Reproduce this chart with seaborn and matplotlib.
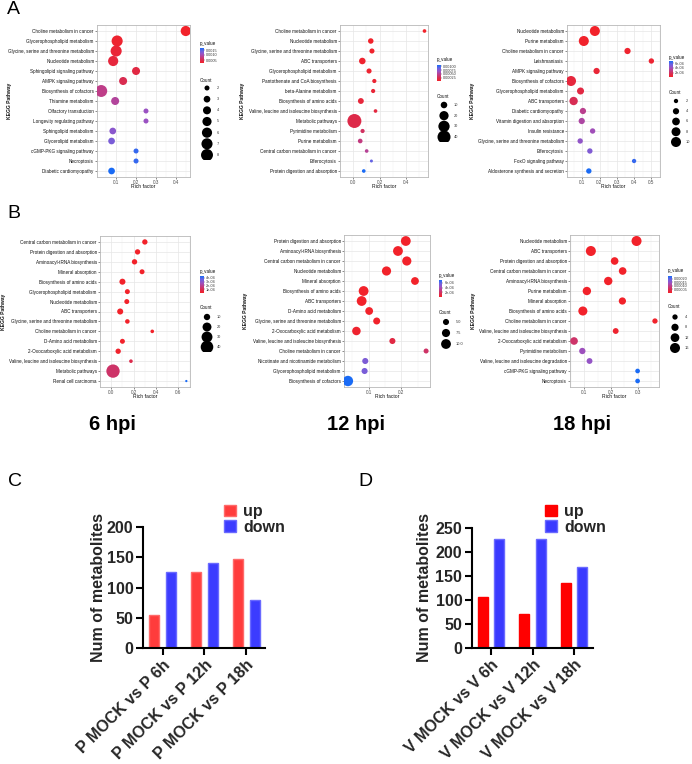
import numpy as np
import pandas as pd
import matplotlib
matplotlib.use("Agg")
import matplotlib.pyplot as plt
from matplotlib.colors import LinearSegmentedColormap, Normalize
from matplotlib.cm import ScalarMappable
import seaborn as sns

sns.set_theme(style="ticks")
plt.rcParams["font.family"] = ["Liberation Sans", "DejaVu Sans"]

# ------------------------------------------------------------------ data
# A, 6 hpi (top row, left)
a1_pathway = ["Choline metabolism in cancer", "Glycerophospholipid metabolism",
              "Glycine, serine and threonine metabolism", "Nucleotide metabolism",
              "Sphingolipid signaling pathway", "AMPK signaling pathway",
              "Biosynthesis of cofactors", "Thiamine metabolism", "Olfactory transduction",
              "Longevity regulating pathway", "Sphingolipid metabolism", "Glycerolipid metabolism",
              "cGMP-PKG signaling pathway", "Necroptosis", "Diabetic cardiomyopathy"]
a1_rich = [0.45, 0.105, 0.10, 0.085, 0.20, 0.135, 0.025, 0.095, 0.25, 0.25, 0.083, 0.077, 0.20, 0.20, 0.077]
a1_count = [6, 7, 7, 6, 4, 4, 8, 4, 2, 2, 3, 3, 2, 2, 3]
a1_p = [0.0002, 0.00025, 0.0003, 0.00035, 0.0004, 0.0005, 0.0008, 0.0009, 0.0011, 0.0011,
        0.0012, 0.0013, 0.0016, 0.0016, 0.0017]

# A, 12 hpi
a2_pathway = ["Choline metabolism in cancer", "Nucleotide metabolism",
              "Glycine, serine and threonine metabolism", "ABC transporters",
              "Glycerophospholipid metabolism", "Pantothenate and CoA biosynthesis",
              "beta-Alanine metabolism", "Biosynthesis of amino acids",
              "Valine, leucine and isoleucine biosynthesis", "Metabolic pathways",
              "Pyrimidine metabolism", "Purine metabolism", "Central carbon metabolism in cancer",
              "Efferocytosis", "Protein digestion and absorption"]
a2_rich = [0.54, 0.133, 0.142, 0.069, 0.12, 0.16, 0.151, 0.058, 0.169, 0.009, 0.071, 0.053, 0.102, 0.138, 0.08]
a2_count = [3, 7, 6, 10, 6, 4, 4, 8, 3, 46, 4, 5, 3, 2, 3]
a2_p = [0.00002, 0.00003, 0.00004, 0.00005, 0.00006, 0.00008, 0.0001, 0.00012, 0.00015, 0.0002,
        0.0003, 0.00042, 0.0005, 0.0009, 0.0011]

# A, 18 hpi
a3_pathway = ["Nucleotide metabolism", "Purine metabolism", "Choline metabolism in cancer",
              "Leishmaniasis", "AMPK signaling pathway", "Biosynthesis of cofactors",
              "Glycerophospholipid metabolism", "ABC transporters", "Diabetic cardiomyopathy",
              "Vitamin digestion and absorption", "Insulin resistance",
              "Glycine, serine and threonine metabolism", "Efferocytosis",
              "FoxO signaling pathway", "Aldosterone synthesis and secretion"]
a3_rich = [0.173, 0.109, 0.362, 0.50, 0.183, 0.035, 0.09, 0.05, 0.104, 0.097, 0.16, 0.088, 0.144, 0.40, 0.138]
a3_count = [10, 10, 4, 3, 4, 10, 5, 7, 4, 4, 3, 3, 3, 2, 3]
a3_p = [0.00001, 0.00002, 0.00003, 0.00004, 0.00006, 0.00008, 0.0001, 0.00016, 0.0003, 0.00035,
        0.0004, 0.00045, 0.0005, 0.00065, 0.0007]

# B, 6 hpi
b1_pathway = ["Central carbon metabolism in cancer", "Protein digestion and absorption",
              "Aminoacyl-tRNA biosynthesis", "Mineral absorption", "Biosynthesis of amino acids",
              "Glycerophospholipid metabolism", "Nucleotide metabolism", "ABC transporters",
              "Glycine, serine and threonine metabolism", "Choline metabolism in cancer",
              "D-Amino acid metabolism", "2-Oxocarboxylic acid metabolism",
              "Valine, leucine and isoleucine biosynthesis", "Metabolic pathways",
              "Renal cell carcinoma"]
b1_rich = [0.30, 0.235, 0.208, 0.275, 0.10, 0.144, 0.139, 0.08, 0.144, 0.366, 0.10, 0.062, 0.176, 0.016, 0.67]
b1_count = [7, 7, 7, 6, 9, 6, 6, 9, 5, 3, 6, 7, 3, 45, 1]
b1_p = [1e-9, 2e-9, 5e-9, 1e-8, 2e-8, 5e-8, 1e-7, 2e-7, 5e-7, 1e-6, 3e-6, 8e-6, 8e-5, 1.3e-4, 4.5e-4]

# B, 12 hpi
b2_pathway = ["Protein digestion and absorption", "Aminoacyl-tRNA biosynthesis",
              "Central carbon metabolism in cancer", "Nucleotide metabolism", "Mineral absorption",
              "Biosynthesis of amino acids", "ABC transporters", "D-Amino acid metabolism",
              "Glycine, serine and threonine metabolism", "2-Oxocarboxylic acid metabolism",
              "Valine, leucine and isoleucine biosynthesis", "Choline metabolism in cancer",
              "Nicotinate and nicotinamide metabolism", "Glycerophospholipid metabolism",
              "Biosynthesis of cofactors"]
b2_rich = [0.214, 0.19, 0.217, 0.155, 0.242, 0.085, 0.079, 0.102, 0.125, 0.063, 0.173, 0.276, 0.09, 0.088, 0.037]
b2_count = [10, 10, 9, 9, 7, 10, 10, 7, 6, 8, 5, 4, 5, 5, 11]
b2_p = [1e-9, 3e-9, 1e-8, 3e-8, 1e-7, 3e-7, 1e-6, 3e-6, 8e-6, 2e-5, 1e-4, 2e-4, 5.2e-4, 5.3e-4, 7.2e-4]

# B, 18 hpi
b3_pathway = ["Nucleotide metabolism", "ABC transporters", "Protein digestion and absorption",
              "Central carbon metabolism in cancer", "Aminoacyl-tRNA biosynthesis",
              "Purine metabolism", "Mineral absorption", "Biosynthesis of amino acids",
              "Choline metabolism in cancer", "Valine, leucine and isoleucine biosynthesis",
              "2-Oxocarboxylic acid metabolism", "Pyrimidine metabolism",
              "Valine, leucine and isoleucine degradation", "cGMP-PKG signaling pathway",
              "Necroptosis"]
b3_rich = [0.296, 0.125, 0.214, 0.244, 0.19, 0.11, 0.243, 0.095, 0.365, 0.218, 0.062, 0.093, 0.12, 0.30, 0.30]
b3_count = [16, 16, 9, 9, 11, 11, 8, 13, 4, 5, 9, 6, 5, 3, 3]
b3_p = [1e-10, 1e-9, 1e-8, 2e-8, 5e-8, 1e-7, 3e-7, 1e-6, 3e-6, 8e-6, 7e-5, 1.4e-4, 1.5e-4, 2.4e-4, 2.4e-4]

# colour-bar ticks / labels and count-legend breaks
a1_cb_ticks = [0.0005, 0.0010, 0.0015]
a1_cb_labels = ["0.0005", "0.0010", "0.0015"]
a2_cb_ticks = [0.00025, 0.0005, 0.00075, 0.0010]
a2_cb_labels = ["0.00025", "0.00050", "0.00075", "0.00100"]
a3_cb_ticks = [2e-4, 4e-4, 6e-4]
a3_cb_labels = ["2e-04", "4e-04", "6e-04"]
b1_cb_ticks = [1e-4, 2e-4, 3e-4, 4e-4]
b1_cb_labels = ["1e-04", "2e-04", "3e-04", "4e-04"]
b2_cb_ticks = [2e-4, 4e-4, 6e-4]
b2_cb_labels = ["2e-04", "4e-04", "6e-04"]
b3_cb_ticks = [5e-5, 1e-4, 1.5e-4, 2e-4]
b3_cb_labels = ["0.00005", "0.00010", "0.00015", "0.00020"]

a1_breaks = [2, 3, 4, 5, 6, 7, 8]
a2_breaks = [10, 20, 30, 40]
a3_breaks = [2, 4, 6, 8, 10]
b1_breaks = [10, 20, 30, 40]
b2_breaks = [5.0, 7.5, 10.0]
b2_break_labels = ["5.0", "7.5", "10.0"]
b3_breaks = [4, 8, 12, 16]

a1_xticks = [0.1, 0.2, 0.3, 0.4]
a2_xticks = [0.0, 0.2, 0.4]
a3_xticks = [0.1, 0.2, 0.3, 0.4, 0.5]
b1_xticks = [0.0, 0.2, 0.4, 0.6]
b2_xticks = [0.1, 0.2]
b3_xticks = [0.1, 0.2, 0.3]

# C / D bar charts
c_groups = ["P MOCK vs P 6h", "P MOCK vs P 12h", "P MOCK vs P 18h"]
c_up = [54, 125, 148]
c_down = [125, 140, 79]
d_groups = ["V MOCK vs V 6h", "V MOCK vs V 12h", "V MOCK vs V 18h"]
d_up = [106, 70, 135]
d_down = [227, 228, 170]
directions = ["up", "down"]
hpi_titles = ["6 hpi", "12 hpi", "18 hpi"]

# ------------------------------------------------------------------ figure
W, H = 692, 764
fig = plt.figure(figsize=(W / 100, H / 100), dpi=100)


def rect(l, t, r, b):
    return [l / W, 1 - b / H, (r - l) / W, (b - t) / H]


def fxy(x, y):
    return x / W, 1 - y / H


cmap = LinearSegmentedColormap.from_list(
    "pv", ["#F2222A", "#D92C50", "#BE3D88", "#9A52C2", "#6A62E2", "#1A6BF5"])

SMALL = 3.35


def dotplot(path, rich, count, p, box, xticks, cb_ticks, cb_labels, breaks, break_labels,
            sizes, leg_x, pv_y, cb_y, cnt_y, circ_y, kegg_x, rich_y):
    l, t, r, b = box
    ax = fig.add_axes(rect(l, t, r, b))
    df = pd.DataFrame({"pathway": path, "rich": rich, "count": count, "p": p})
    norm = Normalize(min(p), max(p))
    snorm = (min(count), max(count))
    sns.scatterplot(data=df, x="rich", y="pathway", hue="p", size="count", palette=cmap,
                    hue_norm=norm, sizes=sizes, size_norm=snorm, linewidth=0,
                    legend=False, ax=ax, zorder=3, alpha=1)
    n = len(path)
    ax.set_ylim(n - 1 + 0.6, -0.6)
    lo, hi = min(rich), max(rich)
    pad = 0.05 * (hi - lo)
    ax.set_xlim(lo - pad, hi + pad)
    ax.set_xticks(xticks)
    ax.set_xticklabels([f"{v:.1f}" for v in xticks])
    minor = [v + 0.5 * (xticks[1] - xticks[0]) for v in [xticks[0] - (xticks[1] - xticks[0])] + list(xticks)]
    ax.set_xticks(minor, minor=True)
    ax.set_axisbelow(True)
    ax.grid(True, which="major", color="#E6E6E6", lw=0.5)
    ax.grid(True, which="minor", axis="x", color="#F0F0F0", lw=0.3)
    ax.tick_params(which="minor", length=0)
    ax.tick_params(axis="both", which="major", length=1.3, width=0.4, color="#333333", pad=1,
                   labelsize=SMALL)
    ax.tick_params(axis="x", labelcolor="#4D4D4D")
    ax.tick_params(axis="y", labelcolor="#111111")
    for s in ax.spines.values():
        s.set_color("#B8B8B8")
        s.set_linewidth(0.6)
    ax.set_xlabel("")
    ax.set_ylabel("")
    fig.text(*fxy((l + r) / 2, rich_y), "Rich factor", ha="center", va="center", fontsize=3.6,
             color="#111111")
    fig.text(*fxy(kegg_x, (t + b) / 2), "KEGG Pathway", ha="center", va="center", rotation=90,
             fontsize=3.6, color="#111111", fontweight="bold")

    # colour bar
    fig.text(*fxy(leg_x, pv_y), "p_value", ha="left", va="center", fontsize=3.3, color="#111111")
    cax = fig.add_axes(rect(leg_x, cb_y[0], leg_x + 3.5, cb_y[1]))
    cb = fig.colorbar(ScalarMappable(norm=norm, cmap=cmap), cax=cax)
    cb.set_ticks(cb_ticks)
    cb.set_ticklabels(cb_labels)
    cb.outline.set_visible(False)
    cax.tick_params(length=0.8, width=0.3, labelsize=2.7, pad=0.8, colors="#333333")

    # size legend
    fig.text(*fxy(leg_x, cnt_y), "Count", ha="left", va="center", fontsize=3.3, color="#111111")
    k = len(breaks)
    cx = leg_x + 7
    lax = fig.add_axes(rect(cx - 7, circ_y[0] - 5, cx + 7, circ_y[1] + 5))
    ldf = pd.DataFrame({"x": [0.0] * k, "y": list(range(k)), "count": breaks})
    sns.scatterplot(data=ldf, x="x", y="y", size="count", sizes=sizes, size_norm=snorm,
                    color="black", linewidth=0, legend=False, ax=lax)
    span = (circ_y[1] - circ_y[0]) / max(k - 1, 1)
    lax.set_ylim(k - 1 + 5 / span, -5 / span)
    lax.set_xlim(-1, 1)
    lax.axis("off")
    for i, lab in enumerate(break_labels):
        lax.text(1.45, i, lab, ha="left", va="center", fontsize=2.8, color="#333333", clip_on=False)
    return ax


dotplot(a1_pathway, a1_rich, a1_count, a1_p, (97, 25, 190, 177), a1_xticks, a1_cb_ticks,
        a1_cb_labels, a1_breaks, [str(v) for v in a1_breaks], (13, 74),
        200, 43, (48, 63), 80, (88, 155), 10, 187)
dotplot(a2_pathway, a2_rich, a2_count, a2_p, (340, 25, 428, 177), a2_xticks, a2_cb_ticks,
        a2_cb_labels, a2_breaks, [str(v) for v in a2_breaks], (4.7, 101),
        437, 60, (65, 81), 97, (105, 137), 243, 187)
dotplot(a3_pathway, a3_rich, a3_count, a3_p, (567, 25, 660, 177), a3_xticks, a3_cb_ticks,
        a3_cb_labels, a3_breaks, [str(v) for v in a3_breaks], (9.6, 52),
        669, 57, (61, 77), 92, (101, 142), 473, 187)
dotplot(b1_pathway, b1_rich, b1_count, b1_p, (100, 236, 190, 387), b1_xticks, b1_cb_ticks,
        b1_cb_labels, b1_breaks, [str(v) for v in b1_breaks], (2.7, 92),
        200, 271, (276, 293), 308, (317, 347), 4, 397)
dotplot(b2_pathway, b2_rich, b2_count, b2_p, (344, 235, 430, 387), b2_xticks, b2_cb_ticks,
        b2_cb_labels, b2_breaks, b2_break_labels, (13, 56),
        439, 275, (280, 297), 312, (322, 344), 246, 397)
dotplot(b3_pathway, b3_rich, b3_count, b3_p, (570, 235, 659, 387), b3_xticks, b3_cb_ticks,
        b3_cb_labels, b3_breaks, [str(v) for v in b3_breaks], (11.4, 52),
        668, 270, (276, 293), 307, (317, 348), 474, 397)

for title, x in zip(hpi_titles, [112, 356, 582]):
    fig.text(*fxy(x, 425), title, ha="center", va="center", fontsize=14.5, fontweight="bold",
             color="black")

for letter, (x, y) in zip("ABCD", [(13, 10), (14, 214), (15, 481), (365, 481)]):
    fig.text(*fxy(x, y), letter, ha="center", va="center", fontsize=14, color="black")


def barpanel(groups, up, down, box, ymax, ystep, pal, edge, ylab_x, leg_xy):
    l, t, r, b = box
    ax = fig.add_axes(rect(l, t, r, b))
    df = pd.DataFrame({"group": groups + groups,
                       "direction": [directions[0]] * len(up) + [directions[1]] * len(down),
                       "n": up + down})
    sns.barplot(data=df, x="group", y="n", hue="direction", palette=pal, width=0.8, gap=0.4,
                saturation=1, ax=ax, linewidth=1.0, errorbar=None)
    for patch in ax.patches:
        fc = patch.get_facecolor()
        key = "up" if abs(fc[0] - matplotlib.colors.to_rgba(pal["up"])[0]) < 1e-3 and \
            abs(fc[2] - matplotlib.colors.to_rgba(pal["up"])[2]) < 1e-3 else "down"
        patch.set_edgecolor(edge[key])
    ax.set_xlim(-0.46, len(groups) - 1 + 0.45)
    ax.set_ylim(0, ymax)
    ax.set_yticks(np.arange(0, ymax + 1, ystep))
    sns.despine(ax=ax)
    for s in ["left", "bottom"]:
        ax.spines[s].set_linewidth(1.5)
        ax.spines[s].set_color("black")
    ax.tick_params(axis="both", direction="out", length=5, width=1.5, color="black",
                   labelsize=11.5, pad=2, left=True, bottom=True)
    for lab in ax.get_yticklabels() + ax.get_xticklabels():
        lab.set_fontweight("bold")
    plt.setp(ax.get_xticklabels(), rotation=45, ha="right", rotation_mode="anchor")
    ax.set_xlabel("")
    ax.set_ylabel("Num of metabolites", fontsize=11.5, fontweight="bold")
    ax.yaxis.set_label_coords((ylab_x - l) / (r - l), 0.5)
    handles, labels = ax.get_legend_handles_labels()
    if ax.get_legend() is not None:
        ax.get_legend().remove()
    fig.legend(handles, labels, loc="upper left", bbox_to_anchor=fxy(*leg_xy), frameon=False,
               prop={"weight": "bold", "size": 11.5}, handlelength=0.75, handleheight=0.75,
               handletextpad=0.45, labelspacing=0.05, borderpad=0, borderaxespad=0)
    return ax


barpanel(c_groups, c_up, c_down, (143.3, 527.3, 265, 647.7), 200, 50,
         {"up": "#FF3C3C", "down": "#3C3CFF"}, {"up": "#FF6A6A", "down": "#6A6AFF"},
         106, (224, 504))
barpanel(d_groups, d_up, d_down, (472, 528.3, 592.7, 647.7), 250, 50,
         {"up": "#FF0000", "down": "#3A3AFF"}, {"up": "#FF0000", "down": "#6A6AFF"},
         432, (545, 504))

fig.savefig("out.png", dpi=100, facecolor="white")
